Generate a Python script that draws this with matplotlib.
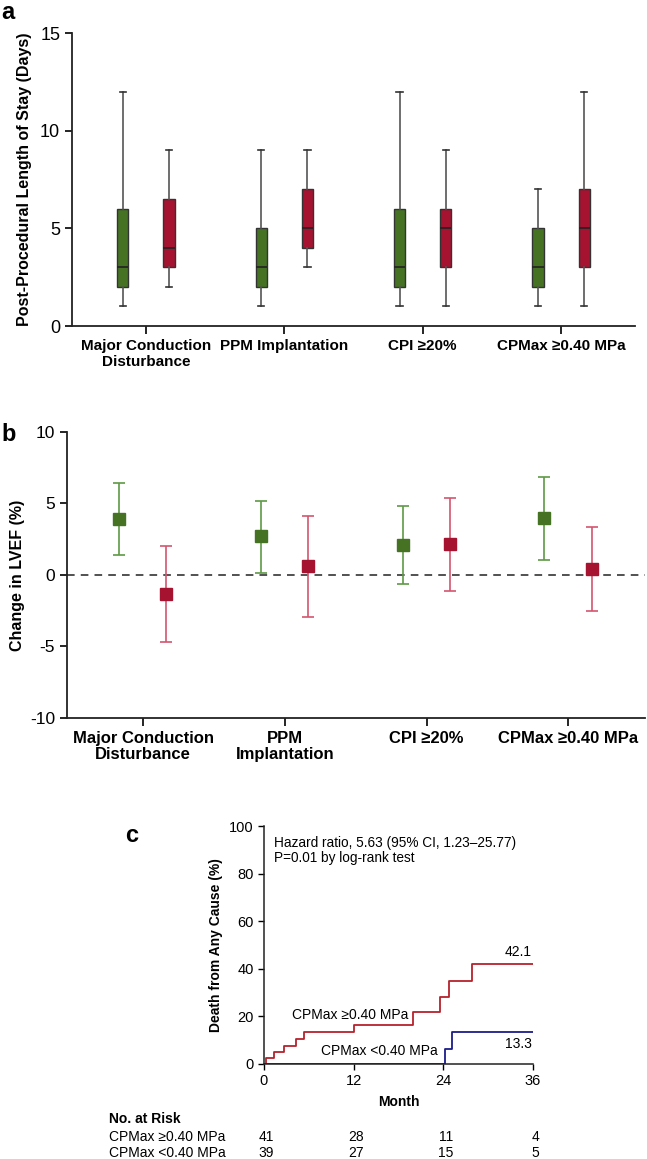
import numpy as np
import matplotlib
matplotlib.use("Agg")
import matplotlib.pyplot as plt

plt.rcParams['font.family'] = ['Liberation Sans', 'DejaVu Sans']
plt.rcParams['axes.unicode_minus'] = False

# ---- data ----
categories = ["Major Conduction\nDisturbance", "PPM Implantation", "CPI \u226520%", "CPMax \u22650.40 MPa"]
categories_b = ["Major Conduction\nDisturbance", "PPM\nImplantation", "CPI \u226520%", "CPMax \u22650.40 MPa"]

# box stats (whislo, q1, med, q3, whishi) for the "no" (green) and "yes" (red) groups
los_green = [(1, 2, 3, 6, 12), (1, 2, 3, 5, 9), (1, 2, 3, 6, 12), (1, 2, 3, 5, 7)]
los_red = [(2, 3, 4, 6.5, 9), (3, 4, 5, 7, 9), (1, 3, 5, 6, 9), (1, 3, 5, 7, 12)]

# LVEF change: mean, lower CI, upper CI
lvef_green = [3.9, 2.7, 2.1, 3.95]
lvef_green_lo = [1.4, 0.14, -0.6, 1.05]
lvef_green_hi = [6.4, 5.2, 4.85, 6.85]
lvef_red = [-1.35, 0.6, 2.15, 0.4]
lvef_red_lo = [-4.7, -2.95, -1.1, -2.5]
lvef_red_hi = [2.05, 4.1, 5.4, 3.35]

# Kaplan-Meier step points (month, cumulative %)
km_hi_t = [0, 0.3, 1.4, 2.7, 4.3, 5.4, 12, 20, 23.5, 24.7, 27.8, 36]
km_hi_y = [0, 2.4, 4.9, 7.5, 10.3, 13.3, 16.4, 21.7, 28.2, 34.7, 42.1, 42.1]
km_lo_t = [0, 24.2, 25.1, 36]
km_lo_y = [0, 6.3, 13.3, 13.3]

risk_months = [0, 12, 24, 36]
risk_hi = [41, 28, 11, 4]
risk_lo = [39, 27, 15, 5]

GREEN = "#467323"
RED = "#a51331"
GREEN_ERR = "#5f9a45"
RED_ERR = "#d4556f"

fig = plt.figure(figsize=(6.47, 11.59), dpi=100)


def style_axes(ax, lw=1.3):
    for s in ["top", "right"]:
        ax.spines[s].set_visible(False)
    for s in ["left", "bottom"]:
        ax.spines[s].set_linewidth(lw)
        ax.spines[s].set_color("#222222")


# ---- panel a ----
ax = fig.add_axes([0.1113, 0.7187, 0.8702, 0.2528])
pos = np.arange(1, len(categories) + 1)
for stats, off, col in [(los_green, -0.167, GREEN), (los_red, 0.167, RED)]:
    bxp = [dict(whislo=s[0], q1=s[1], med=s[2], q3=s[3], whishi=s[4], fliers=[]) for s in stats]
    ax.bxp(bxp, positions=pos + off, widths=0.08, patch_artist=True, showfliers=False,
           boxprops=dict(facecolor=col, edgecolor="#333333", linewidth=1.0),
           medianprops=dict(color="#222222", linewidth=1.2),
           whiskerprops=dict(color="#555555", linewidth=1.2),
           capprops=dict(color="#333333", linewidth=1.2), capwidths=0.045)
ax.set_xlim(0.466, 4.534)
ax.set_ylim(0, 15)
ax.set_yticks([0, 5, 10, 15])
ax.set_xticks(pos)
ax.set_xticklabels(categories, fontweight="bold", fontsize=11, linespacing=1.2)
ax.set_ylabel("Post-Procedural Length of Stay (Days)", fontweight="bold", fontsize=11.5, labelpad=6)
style_axes(ax)
ax.tick_params(axis="y", labelsize=13, length=5, width=1.2)
ax.tick_params(axis="x", length=6, width=1.2)
fig.text(0.002, 0.999, "a", fontweight="bold", fontsize=17, va="top")

# ---- panel b ----
ax = fig.add_axes([0.1036, 0.3805, 0.8933, 0.2468])
posb = np.arange(1, len(categories_b) + 1)
for vals, lo, hi, off, col, ecol in [
        (lvef_green, lvef_green_lo, lvef_green_hi, -0.17, GREEN, GREEN_ERR),
        (lvef_red, lvef_red_lo, lvef_red_hi, 0.165, RED, RED_ERR)]:
    vals = np.array(vals)
    yerr = [vals - np.array(lo), np.array(hi) - vals]
    ax.errorbar(posb + off, vals, yerr=yerr, fmt="none", ecolor=ecol, elinewidth=1.2,
                capsize=4.6, capthick=1.2, zorder=2)
    ax.plot(posb + off, vals, "s", color=col, markersize=8, zorder=3)
ax.axhline(0, color="#222222", linestyle=(0, (5, 4)), linewidth=1.1, zorder=1)
ax.set_xlim(0.464, 4.54)
ax.set_ylim(-10, 10)
ax.set_yticks([-10, -5, 0, 5, 10])
ax.set_xticks(posb)
ax.set_xticklabels(categories_b, fontweight="bold", fontsize=12, linespacing=1.1)
ax.set_ylabel("Change in LVEF (%)", fontweight="bold", fontsize=11.5, labelpad=4)
style_axes(ax)
ax.tick_params(axis="y", labelsize=12.5, length=5, width=1.2)
ax.tick_params(axis="x", length=6, width=1.2)
fig.text(0.003, 0.635, "b", fontweight="bold", fontsize=17, va="top")

# ---- panel c ----
ax = fig.add_axes([0.408, 0.082, 0.4158, 0.2053])
ax.step(km_hi_t, km_hi_y, where="post", color="#b5222b", linewidth=1.3)
ax.step(km_lo_t, km_lo_y, where="post", color="#1c1c8a", linewidth=1.3)
ax.set_xlim(0, 36)
ax.set_ylim(0, 100)
ax.set_xticks(risk_months)
ax.set_yticks([0, 20, 40, 60, 80, 100])
ax.set_xlabel("Month", fontweight="bold", fontsize=10, labelpad=5)
ax.set_ylabel("Death from Any Cause (%)", fontweight="bold", fontsize=10, labelpad=4)
style_axes(ax, 1.1)
ax.tick_params(labelsize=10.5, length=4, width=1.0)
ax.text(1.3, 96, "Hazard ratio, 5.63 (95% CI, 1.23\u201325.77)\nP=0.01 by log-rank test",
        fontsize=9.8, va="top", ha="left", linespacing=1.15)
ax.text(35.8, km_hi_y[-1] + 2, "42.1", fontsize=10, ha="right", va="bottom")
ax.text(35.8, km_lo_y[-1] - 2, "13.3", fontsize=10, ha="right", va="top")
ax.text(3.8, 17.5, "CPMax \u22650.40 MPa", fontsize=10, ha="left", va="bottom")
ax.text(7.6, 2.5, "CPMax <0.40 MPa", fontsize=10, ha="left", va="bottom")
fig.text(0.193, 0.289, "c", fontweight="bold", fontsize=17, va="top")

# number at risk table
fig.text(0.168, 1 - 1119 / 1159, "No. at Risk", fontweight="bold", fontsize=10, va="center")
for row, (label, counts) in enumerate([("CPMax \u22650.40 MPa", risk_hi), ("CPMax <0.40 MPa", risk_lo)]):
    yy = 1 - (1137 + 16 * row) / 1159
    fig.text(0.168, yy, label, fontsize=10, va="center")
    for m, n in zip(risk_months, counts):
        xx = ax.transData.transform((m, 0))[0] / fig.bbox.width
        fig.text(xx + 0.004, yy, str(n), fontsize=10, va="center", ha="center")

fig.savefig("out.png", dpi=100)
